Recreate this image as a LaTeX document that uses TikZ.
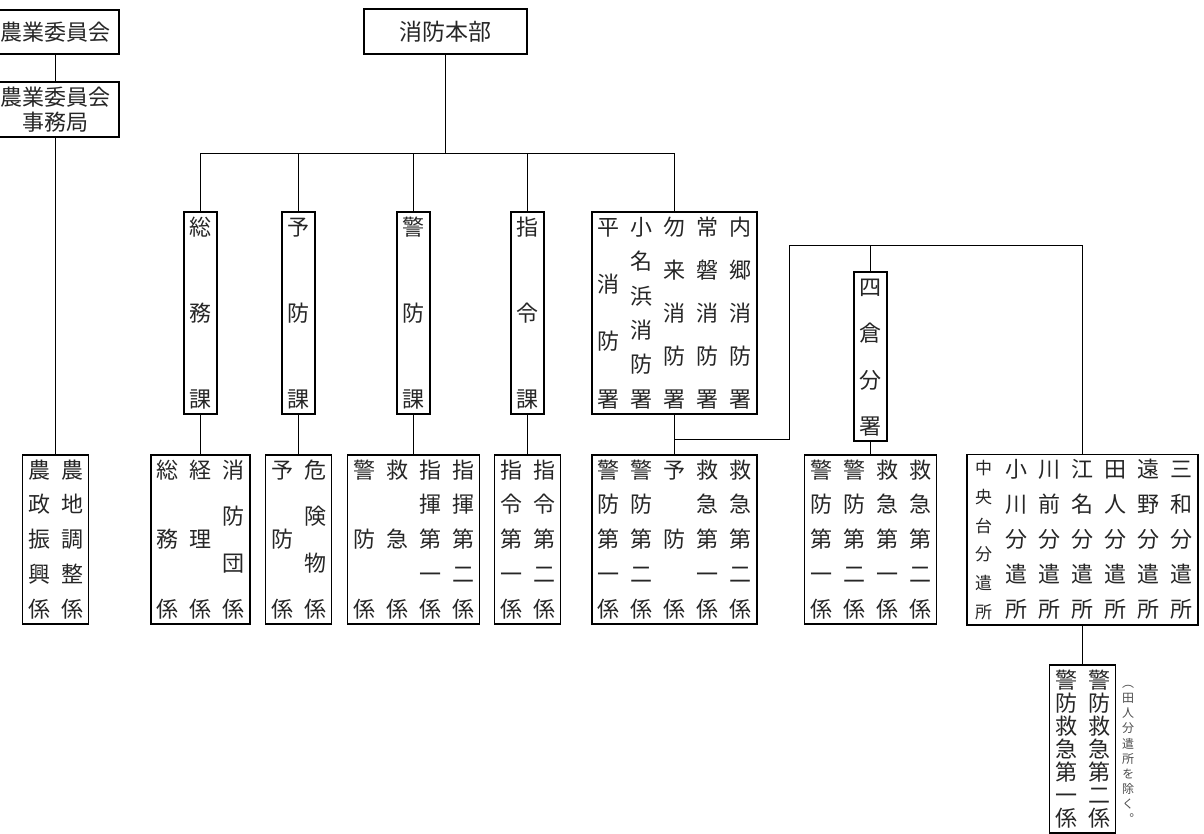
\documentclass[tikz,border=0pt]{standalone}
\usepackage{fontspec}
\setmainfont{Noto Sans CJK JP}
\newfontfamily\vertfont[RawFeature=+vert]{Noto Sans CJK JP}
\makeatletter
% one column of characters, spread over the given height
\newcommand\tcol[3][22pt]{%
  \parbox[c][#2][s]{#1}{\offinterlineskip\let\tc@sep\relax
    \@tfor\tc@ch:=#3\do{\tc@sep\hbox to #1{\hss\vrule height .88em depth .12em width 0pt\tc@ch\hss}\let\tc@sep\vfill}}}
\makeatother
\newcommand\colgap{\hspace{11pt}}

\begin{document}
\begin{tikzpicture}[x=1pt,y=-1pt,
  box/.style={draw,line width=1.8pt,inner xsep=5.5pt,inner ysep=4pt,text=black!85,font=\fontsize{22}{22}\selectfont},
  head/.style={draw,line width=1.8pt,inner sep=0pt,align=center,text=black!85,font=\fontsize{22}{25}\selectfont},
  link/.style={line width=1.8pt}]
	\useasboundingbox (0,0) rectangle (1204,834);
	% Define the coordinates
	\coordinate (bus) at (0,153.5);
	\coordinate (bus2) at (0,245.5);
	\coordinate (jog) at (789.5,439.5);
	% Top boxes
	\node[head,minimum width=127pt,minimum height=44pt] (nogyo) at (55.5,32) {農業委員会};
	\node[head,minimum width=127pt,minimum height=55pt] (jimu) at (55.5,109.5) {農業委員会\\事務局};
	\node[head,minimum width=163pt,minimum height=45pt,font=\fontsize{23}{25}\selectfont] (honbu) at (445.5,31.5) {消防本部};
	% Sections and stations
	\node[box] (somu) at (200.5,313) {\tcol{192pt}{総務課}};
	\node[box] (yobo) at (298.5,313) {\tcol{192pt}{予防課}};
	\node[box] (keibo) at (413.5,313) {\tcol{192pt}{警防課}};
	\node[box] (shirei) at (527.5,313) {\tcol{192pt}{指令課}};
	\node[box] (sho) at (674.5,313) {\tcol{191pt}{平消防署}\colgap\tcol{191pt}{小名浜消防署}\colgap
		\tcol{191pt}{勿来消防署}\colgap\tcol{191pt}{常磐消防署}\colgap\tcol{191pt}{内郷消防署}};
	\node[box] (yotsu) at (870.5,356.5) {\tcol{159pt}{四倉分署}};
	% Groups
	\node[box] (nosei) at (55.5,539.5) {\tcol{159pt}{農政振興係}\colgap\tcol{159pt}{農地調整係}};
	\node[box] (somuk) at (200.5,539.5) {\tcol{159pt}{総務係}\colgap\tcol{159pt}{経理係}\colgap\tcol{159pt}{消防団係}};
	\node[box] (yobok) at (298.5,539.5) {\tcol{159pt}{予防係}\colgap\tcol{159pt}{危険物係}};
	\node[box] (keibok) at (413.5,539.5) {\tcol{159pt}{警防係}\colgap\tcol{159pt}{救急係}\colgap
		\tcol{159pt}{指揮第一係}\colgap\tcol{159pt}{指揮第二係}};
	\node[box] (shireik) at (527.5,539.5) {\tcol{159pt}{指令第一係}\colgap\tcol{159pt}{指令第二係}};
	\node[box] (shok) at (674.5,539.5) {\tcol{159pt}{警防第一係}\colgap\tcol{159pt}{警防第二係}\colgap
		\tcol{159pt}{予防係}\colgap\tcol{159pt}{救急第一係}\colgap\tcol{159pt}{救急第二係}};
	\node[box] (yotsuk) at (870.5,539.5) {\tcol{159pt}{警防第一係}\colgap\tcol{159pt}{警防第二係}\colgap
		\tcol{159pt}{救急第一係}\colgap\tcol{159pt}{救急第二係}};
	\node[box] (bunken) at (1082.5,539.5) {{\fontsize{17}{17}\selectfont\tcol{159pt}{中央台分遣所}}\colgap
		\tcol{159pt}{小川分遣所}\colgap\tcol{159pt}{川前分遣所}\colgap\tcol{159pt}{江名分遣所}\colgap
		\tcol{159pt}{田人分遣所}\colgap\tcol{159pt}{遠野分遣所}\colgap\tcol{159pt}{三和分遣所}};
	\node[box] (kyukyu) at (1082.5,749) {\tcol{158pt}{警防救急第一係}\colgap\tcol{158pt}{警防救急第二係}};
	\node[text=black!70] (note) at (1128,751) {\vertfont\fontsize{12}{12}\selectfont\tcol[13pt]{146pt}{︵田人分遣所を除く。}};
	% Draw the connectors
	\draw[link] (nogyo) -- (jimu);
	\draw[link] (jimu) -- (nosei);
	\draw[link] (honbu) -- (honbu |- bus);
	\draw[link] (somu.north |- bus) -- (sho.north |- bus);
	\foreach \n in {somu,yobo,keibo,shirei,sho}
		\draw[link] (\n.north |- bus) -- (\n.north);
	\foreach \a/\b in {somu/somuk,yobo/yobok,keibo/keibok,shirei/shireik,sho/shok,yotsu/yotsuk}
		\draw[link] (\a) -- (\b);
	% Branch to Yotsukura and the outposts
	\draw[link] (sho.south |- jog) -| (jog |- bus2) -| (bunken.north);
	\draw[link] (yotsu.north |- bus2) -- (yotsu.north);
	\draw[link] (bunken) -- (kyukyu);
\end{tikzpicture}
\end{document}
